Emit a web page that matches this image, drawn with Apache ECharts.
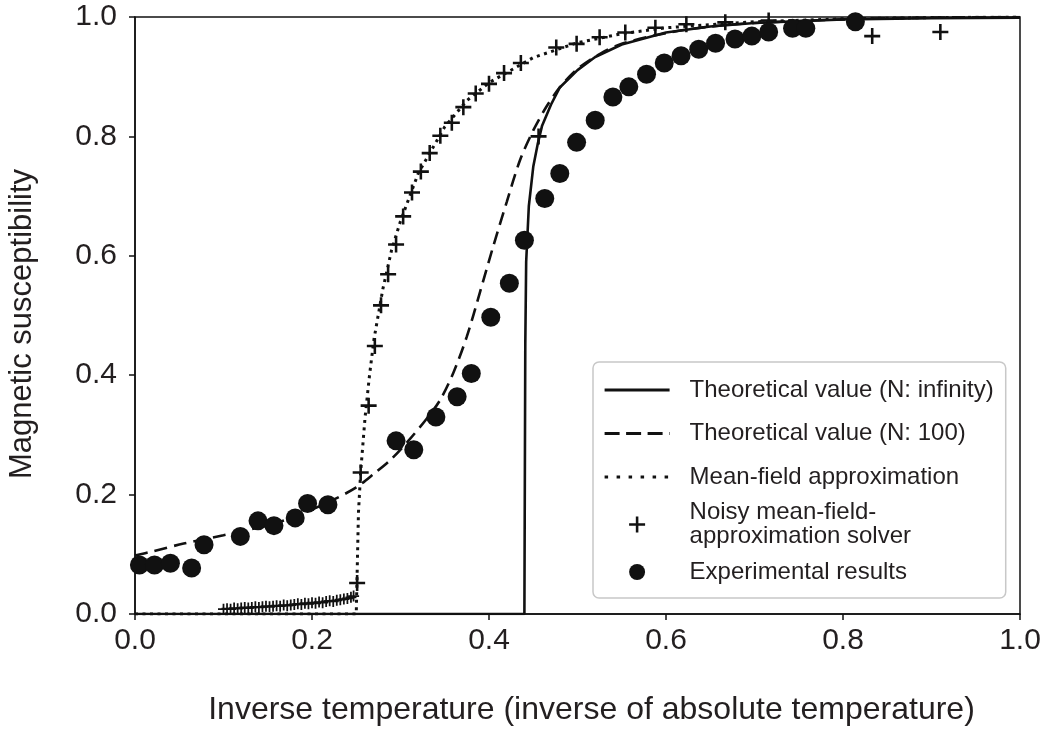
<!DOCTYPE html>
<html>
<head>
<meta charset="utf-8">
<script src="https://cdn.jsdelivr.net/npm/echarts@6/dist/echarts.min.js"></script>
<style>
  html, body { margin: 0; padding: 0; background: #fff; }
  #chart { width: 1048px; height: 729px; }
</style>
</head>
<body>
<div id="chart"></div>
<script>
// values: [inverse temperature, magnetisation]
var xTicks = [0, 0.2, 0.4, 0.6, 0.8, 1.0];
var yTicks = [0, 0.2, 0.4, 0.6, 0.8, 1.0];

var theoryInf = [
  [0, 0], [0.2, 0], [0.44, 0], [0.4407, 0], [0.441, 0.45], [0.442, 0.59], [0.445, 0.683],
  [0.45, 0.749], [0.455, 0.787], [0.46, 0.818], [0.47, 0.853], [0.48, 0.882], [0.5, 0.911],
  [0.52, 0.933], [0.55, 0.954], [0.6, 0.974], [0.65, 0.984], [0.7, 0.99], [0.8, 0.996],
  [0.9, 0.998], [1.0, 0.999]
];

var theory100 = [
  [0, 0.098], [0.02, 0.105], [0.055, 0.118], [0.1, 0.132], [0.14, 0.145], [0.18, 0.162],
  [0.2, 0.175], [0.225, 0.192], [0.25, 0.212], [0.27, 0.235], [0.29, 0.26], [0.31, 0.292],
  [0.33, 0.328], [0.345, 0.359], [0.36, 0.405], [0.375, 0.465], [0.39, 0.54], [0.405, 0.617],
  [0.42, 0.69], [0.435, 0.76], [0.45, 0.81], [0.465, 0.85], [0.48, 0.882], [0.5, 0.913],
  [0.525, 0.938], [0.55, 0.955], [0.6, 0.973], [0.65, 0.984], [0.7, 0.99], [0.8, 0.996],
  [0.9, 0.999], [1.0, 1.0]
];

var meanField = [
  [0, 0], [0.1, 0], [0.2, 0], [0.25, 0], [0.2525, 0.17], [0.255, 0.238], [0.26, 0.33],
  [0.265, 0.4], [0.27, 0.46], [0.28, 0.544], [0.29, 0.61], [0.3, 0.658], [0.32, 0.738],
  [0.35, 0.816], [0.375, 0.86], [0.4, 0.89], [0.45, 0.932], [0.5, 0.957], [0.55, 0.972],
  [0.6, 0.982], [0.7, 0.992], [0.8, 0.997], [0.9, 0.999], [1.0, 1.0]
];

var noisySolver = [
  [0.100, 0.008], [0.104, 0.009], [0.108, 0.008], [0.112, 0.010], [0.116, 0.009], [0.120, 0.010],
  [0.124, 0.011], [0.128, 0.010], [0.132, 0.011], [0.136, 0.012], [0.140, 0.011], [0.144, 0.012],
  [0.148, 0.013], [0.152, 0.012], [0.156, 0.013], [0.160, 0.014], [0.164, 0.013], [0.168, 0.015],
  [0.172, 0.014], [0.176, 0.015], [0.180, 0.016], [0.184, 0.017], [0.188, 0.016], [0.192, 0.018],
  [0.196, 0.017], [0.200, 0.019], [0.204, 0.018], [0.208, 0.020], [0.212, 0.019], [0.216, 0.021],
  [0.220, 0.022], [0.224, 0.021], [0.228, 0.023], [0.232, 0.024], [0.236, 0.025], [0.240, 0.026],
  [0.244, 0.028], [0.247, 0.030],
  [0.251, 0.052], [0.255, 0.237], [0.264, 0.349], [0.271, 0.449], [0.278, 0.517], [0.286, 0.569],
  [0.295, 0.619], [0.303, 0.666], [0.313, 0.706], [0.323, 0.741], [0.333, 0.772], [0.345, 0.801],
  [0.358, 0.823], [0.371, 0.849], [0.385, 0.872], [0.40, 0.888], [0.417, 0.906], [0.436, 0.923],
  [0.456, 0.80], [0.476, 0.949], [0.499, 0.955], [0.525, 0.966], [0.554, 0.974], [0.588, 0.982],
  [0.623, 0.988], [0.667, 0.991], [0.716, 0.994], [0.833, 0.968], [0.91, 0.975]
];

var experimental = [
  [0.005, 0.082], [0.022, 0.082], [0.04, 0.085], [0.064, 0.077], [0.078, 0.116], [0.119, 0.13],
  [0.139, 0.156], [0.157, 0.148], [0.181, 0.161], [0.195, 0.185], [0.218, 0.183], [0.295, 0.29],
  [0.315, 0.275], [0.34, 0.33], [0.364, 0.364], [0.38, 0.403], [0.402, 0.497], [0.423, 0.554],
  [0.44, 0.626], [0.463, 0.696], [0.48, 0.738], [0.499, 0.79], [0.52, 0.827], [0.54, 0.866],
  [0.558, 0.883], [0.578, 0.904], [0.598, 0.923], [0.617, 0.935], [0.637, 0.946], [0.656, 0.956],
  [0.678, 0.963], [0.697, 0.968], [0.716, 0.975], [0.743, 0.981], [0.758, 0.981], [0.814, 0.992]
];

var names = [
  'Theoretical value (N: infinity)',
  'Theoretical value (N: 100)',
  'Mean-field approximation',
  'Noisy mean-field-approximation solver',
  'Experimental results'
];

var ink = '#111';
var textInk = '#231f20';
var font = '"Liberation Sans", Arial, Helvetica, sans-serif';
var plus = 'path://M0,42H100V58H0Z M42,0H58V100H42Z';
var noDot = { color: 'rgba(0,0,0,0)', borderWidth: 0 };

var myChart = echarts.init(document.getElementById('chart'));
var option = {
  backgroundColor: '#fff',
  animation: false,
  grid: {
    left: 135, right: 28, top: 17, bottom: 115,
    outerBoundsMode: 'none', containLabel: false,
    show: true, borderColor: ink, borderWidth: 1.5
  },
  legend: {
    left: 593, top: 362,
    orient: 'vertical',
    padding: [8, 12, 6, 10],
    itemWidth: 65,
    itemHeight: 16,
    itemGap: 3.5,
    backgroundColor: '#fff',
    borderColor: '#c8c8c8',
    borderWidth: 1.5,
    borderRadius: 6,
    textStyle: { fontFamily: font, fontSize: 24, color: textInk, lineHeight: 40, padding: [0, 0, 0, 15] },
    formatter: function (n) {
      return n === names[3] ? 'Noisy mean-field-\napproximation solver' : n;
    },
    data: [
      { name: names[0], itemStyle: noDot, lineStyle: { width: 3.2, type: 'solid' } },
      { name: names[1], itemStyle: noDot, lineStyle: { width: 3.2, type: [15, 6.5] } },
      { name: names[2], itemStyle: noDot, lineStyle: { width: 3.2, type: [3.5, 8.5] } },
      { name: names[3], textStyle: { lineHeight: 24 } },
      { name: names[4] }
    ]
  },
  xAxis: {
    type: 'value', min: 0, max: 1, interval: 0.2,
    name: 'Inverse temperature (inverse of absolute temperature)',
    nameLocation: 'middle', nameGap: 80,
    nameTextStyle: { fontFamily: font, fontSize: 32, color: textInk, padding: [0, 0, 0, 28] },
    axisLine: { lineStyle: { color: ink, width: 1.5 } },
    axisTick: { inside: false, length: 6, lineStyle: { color: ink, width: 1.5 } },
    axisLabel: { margin: 12, fontFamily: font, fontSize: 30, color: textInk,
      formatter: function (v) { return v.toFixed(1); } },
    splitLine: { show: false }
  },
  yAxis: {
    type: 'value', min: 0, max: 1, interval: 0.2,
    name: 'Magnetic susceptibility',
    nameLocation: 'middle', nameGap: 97,
    nameTextStyle: { fontFamily: font, fontSize: 31, color: textInk, padding: [0, 17, 0, 0] },
    axisLine: { show: true, lineStyle: { color: ink, width: 1.5 } },
    axisTick: { show: true, inside: false, length: 6, lineStyle: { color: ink, width: 1.5 } },
    axisLabel: { margin: 18, fontFamily: font, fontSize: 30, color: textInk,
      formatter: function (v) { return v.toFixed(1); } },
    splitLine: { show: false }
  },
  series: [
    {
      name: names[0], type: 'line', data: theoryInf, symbol: 'none', z: 3,
      lineStyle: { color: ink, width: 2.6, type: 'solid' }, itemStyle: { color: ink }
    },
    {
      name: names[1], type: 'line', data: theory100, symbol: 'none', z: 3, smooth: 0.3,
      lineStyle: { color: ink, width: 2.6, type: [13, 7] }, itemStyle: { color: ink }
    },
    {
      name: names[2], type: 'line', data: meanField, symbol: 'none', z: 3,
      lineStyle: { color: ink, width: 3, type: [3, 4.5] }, itemStyle: { color: ink }
    },
    {
      name: names[3], type: 'scatter', data: noisySolver, symbol: plus, z: 4,
      symbolSize: function (v) { return v[1] < 0.04 ? 11 : 16; },
      itemStyle: { color: ink, opacity: 1 }
    },
    {
      name: names[4], type: 'scatter', data: experimental, symbol: 'circle', symbolSize: 19, z: 5,
      itemStyle: { color: ink, opacity: 1 }
    }
  ]
};
myChart.setOption(option);
</script>
</body>
</html>
